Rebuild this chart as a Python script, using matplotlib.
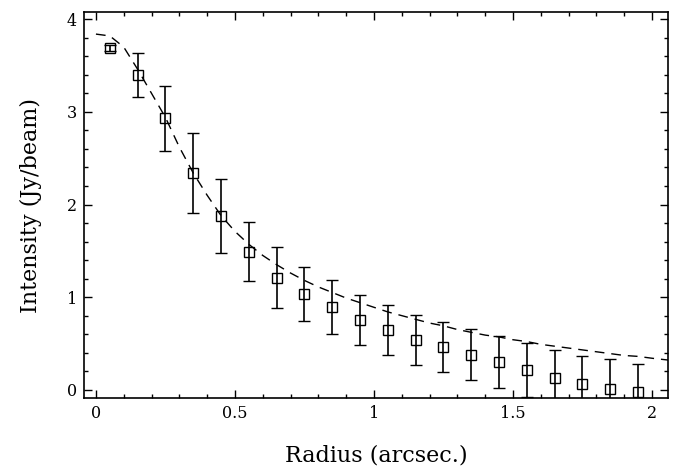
import numpy as np
import matplotlib.pyplot as plt
from matplotlib.ticker import MultipleLocator

# radial profile
radius = [0.05, 0.15, 0.25, 0.35, 0.45, 0.55, 0.65, 0.75, 0.85, 0.95,
          1.05, 1.15, 1.25, 1.35, 1.45, 1.55, 1.65, 1.75, 1.85, 1.95]
intensity = [3.69, 3.40, 2.93, 2.34, 1.88, 1.49, 1.21, 1.03, 0.89, 0.75,
             0.64, 0.54, 0.46, 0.38, 0.30, 0.21, 0.13, 0.06, 0.01, -0.02]
err = [0.03, 0.24, 0.35, 0.43, 0.40, 0.32, 0.33, 0.29, 0.29, 0.27,
       0.27, 0.27, 0.27, 0.28, 0.28, 0.29, 0.30, 0.30, 0.32, 0.30]

# model curve (dashed)
model_r = [0.0, 0.05, 0.1, 0.15, 0.2, 0.25, 0.3, 0.35, 0.4, 0.45, 0.5,
           0.55, 0.6, 0.65, 0.7, 0.75, 0.8, 0.85, 0.9, 0.95, 1.0,
           1.05, 1.1, 1.15, 1.2, 1.25, 1.3, 1.35, 1.4, 1.45, 1.5,
           1.55, 1.6, 1.65, 1.7, 1.75, 1.8, 1.85, 1.9, 1.95, 2.0, 2.06]
model_i = [3.84, 3.82, 3.70, 3.46, 3.20, 2.94, 2.62, 2.34, 2.10, 1.88, 1.71,
           1.57, 1.45, 1.35, 1.26, 1.18, 1.11, 1.05, 0.99, 0.94, 0.89,
           0.84, 0.80, 0.76, 0.72, 0.69, 0.65, 0.62, 0.59, 0.57, 0.54,
           0.52, 0.49, 0.47, 0.45, 0.43, 0.41, 0.39, 0.37, 0.36, 0.34, 0.32]

plt.rcParams['font.family'] = 'DejaVu Serif'

fig = plt.figure(figsize=(6.8, 4.67), dpi=100)
ax = fig.add_axes([0.1235, 0.148, 0.859, 0.826])

ax.plot(model_r, model_i, color='black', ls=(0, (7, 5)), lw=1.0)
ax.errorbar(radius, intensity, yerr=err, fmt='s', mfc='none', mec='black',
            ms=6.5, mew=1.0, ecolor='black', elinewidth=1.2, capsize=4.5,
            capthick=1.2, zorder=3)

ax.set_xlim(-0.043, 2.058)
ax.set_ylim(-0.088, 4.077)
ax.xaxis.set_major_locator(MultipleLocator(0.5))
ax.xaxis.set_minor_locator(MultipleLocator(0.1))
ax.yaxis.set_major_locator(MultipleLocator(1))
ax.yaxis.set_minor_locator(MultipleLocator(0.2))
ax.set_xticks([0, 0.5, 1, 1.5, 2])
ax.set_xticklabels(['0', '0.5', '1', '1.5', '2'])
ax.tick_params(which='both', direction='in', top=True, right=True,
               labelsize=11.5, width=1.0)
ax.tick_params(which='major', length=6, pad=5)
ax.tick_params(which='minor', length=3)
for s in ax.spines.values():
    s.set_linewidth(1.2)

ax.set_xlabel('Radius (arcsec.)', fontsize=16, labelpad=16)
ax.set_ylabel('Intensity (Jy/beam)', fontsize=16, labelpad=18)

fig.savefig('out.png', dpi=100)
